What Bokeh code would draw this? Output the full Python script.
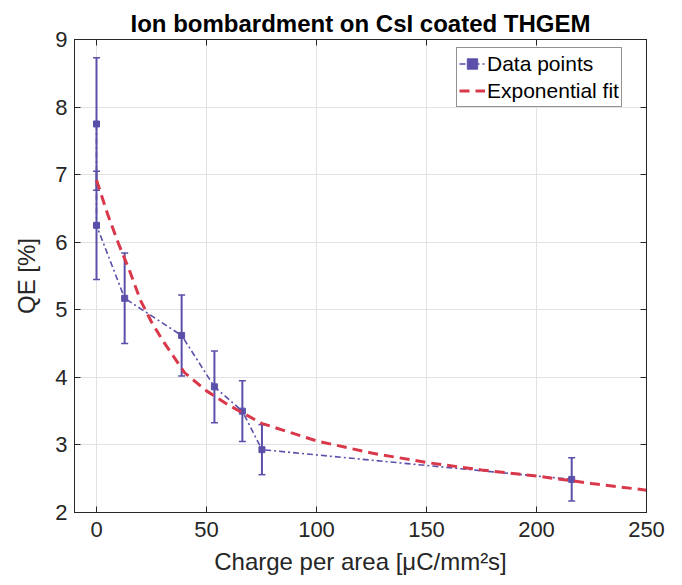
from bokeh.plotting import figure
from bokeh.models import (ColumnDataSource, Whisker, TeeHead, Legend, LegendItem,
                          LinearAxis, Range1d, FixedTicker)
from bokeh.embed import file_html
from bokeh.resources import INLINE

# ---- data ----
charge = [0.0, 0.0, 12.8, 38.7, 53.6, 66.3, 75.2, 216.0]
qe = [7.75, 6.25, 5.17, 4.62, 3.86, 3.50, 2.93, 2.49]
qe_err = [0.98, 0.80, 0.67, 0.60, 0.53, 0.45, 0.37, 0.32]

fit_x = [0, 5, 10, 15, 20, 25, 30, 40, 50, 60, 75, 100, 125, 150, 175, 200, 225, 250]
fit_y = [6.92, 6.42, 5.98, 5.58, 5.14, 4.82, 4.55, 4.07, 3.80, 3.59, 3.32, 3.06,
         2.88, 2.74, 2.63, 2.54, 2.43, 2.33]

x_ticks = [0, 50, 100, 150, 200, 250]
y_ticks = [2, 3, 4, 5, 6, 7, 8, 9]

title_text = "Ion bombardment on CsI coated THGEM"
x_label = "Charge per area [μC/mm²s]"
y_label = "QE [%]"
legend_labels = ["Data points", "Exponential fit"]

BLUE = "#5a50aa"
RED = "#d9384a"
AX = "#262626"
FONT = "Liberation Sans"

src = ColumnDataSource(dict(
    x=charge, y=qe,
    upper=[v + e for v, e in zip(qe, qe_err)],
    lower=[v - e for v, e in zip(qe, qe_err)],
))
fit_src = ColumnDataSource(dict(x=fit_x, y=fit_y))

p = figure(width=682, height=585, output_backend="svg", toolbar_location=None,
           x_range=Range1d(-10, 250), y_range=Range1d(2, 9),
           min_border_left=74, min_border_right=36, min_border_top=39,
           min_border_bottom=73, x_axis_label=x_label, y_axis_label=y_label)

p.title.text = title_text
p.title.align = "center"
p.title.text_font = FONT
p.title.text_font_size = "24px"
p.title.text_font_style = "bold"
p.title.text_color = "black"
p.title.offset = 0
p.title.standoff = 6

p.outline_line_color = AX
p.outline_line_width = 1
p.background_fill_color = "white"
p.border_fill_color = "white"

for ax in (p.xaxis[0], p.yaxis[0]):
    ax.axis_line_color = AX
    ax.major_tick_line_color = AX
    ax.major_tick_in = 6
    ax.major_tick_out = 0
    ax.minor_tick_line_color = None
    ax.major_label_text_font = FONT
    ax.major_label_text_font_size = "22px"
    ax.major_label_text_color = AX
    ax.axis_label_text_font = FONT
    ax.axis_label_text_font_size = "24px"
    ax.axis_label_text_font_style = "normal"
    ax.axis_label_text_color = AX

p.xaxis[0].ticker = FixedTicker(ticks=x_ticks)
p.yaxis[0].ticker = FixedTicker(ticks=y_ticks)
p.xaxis[0].major_label_standoff = 9
p.xaxis[0].axis_label_standoff = 8
p.yaxis[0].major_label_standoff = 7
p.yaxis[0].axis_label_standoff = 12

# mirrored ticks on top and right
top = LinearAxis(ticker=FixedTicker(ticks=x_ticks))
right = LinearAxis(ticker=FixedTicker(ticks=y_ticks))
for ax in (top, right):
    ax.axis_line_color = AX
    ax.major_tick_line_color = AX
    ax.major_tick_in = 6
    ax.major_tick_out = 0
    ax.minor_tick_line_color = None
    ax.major_label_text_font_size = "0px"
    ax.major_label_text_color = None
    ax.major_label_standoff = 0
    ax.axis_label_standoff = 0
p.add_layout(top, "above")
p.add_layout(right, "right")

p.xgrid.ticker = FixedTicker(ticks=x_ticks)
p.ygrid.ticker = FixedTicker(ticks=y_ticks)
p.xgrid.grid_line_color = "#e2e2e2"
p.ygrid.grid_line_color = "#e2e2e2"

# error bars
wh = Whisker(source=src, base="x", upper="upper", lower="lower", dimension="height",
             line_color=BLUE, line_width=2,
             upper_head=TeeHead(size=7, line_color=BLUE, line_width=1.5),
             lower_head=TeeHead(size=7, line_color=BLUE, line_width=1.5))
p.add_layout(wh)

line_r = p.line("x", "y", source=src, line_color=BLUE, line_width=1.6,
                line_dash="6 3 2 3")
scat_r = p.scatter("x", "y", source=src, marker="square", size=6,
                   fill_color=BLUE, line_color=BLUE)
fit_r = p.line("x", "y", source=fit_src, line_color=RED, line_width=3,
               line_dash="10 6")

legend = Legend(items=[LegendItem(label=legend_labels[0], renderers=[line_r, scat_r]),
                       LegendItem(label=legend_labels[1], renderers=[fit_r])],
                location=(382, 405), margin=0, padding=2, spacing=0,
                glyph_width=26, glyph_height=27, label_standoff=2,
                label_text_font=FONT, label_text_font_size="21px",
                label_text_color="black", border_line_color=AX,
                border_line_width=1, background_fill_alpha=1)
p.add_layout(legend)

open("out.html", "w").write(file_html(p, INLINE))
